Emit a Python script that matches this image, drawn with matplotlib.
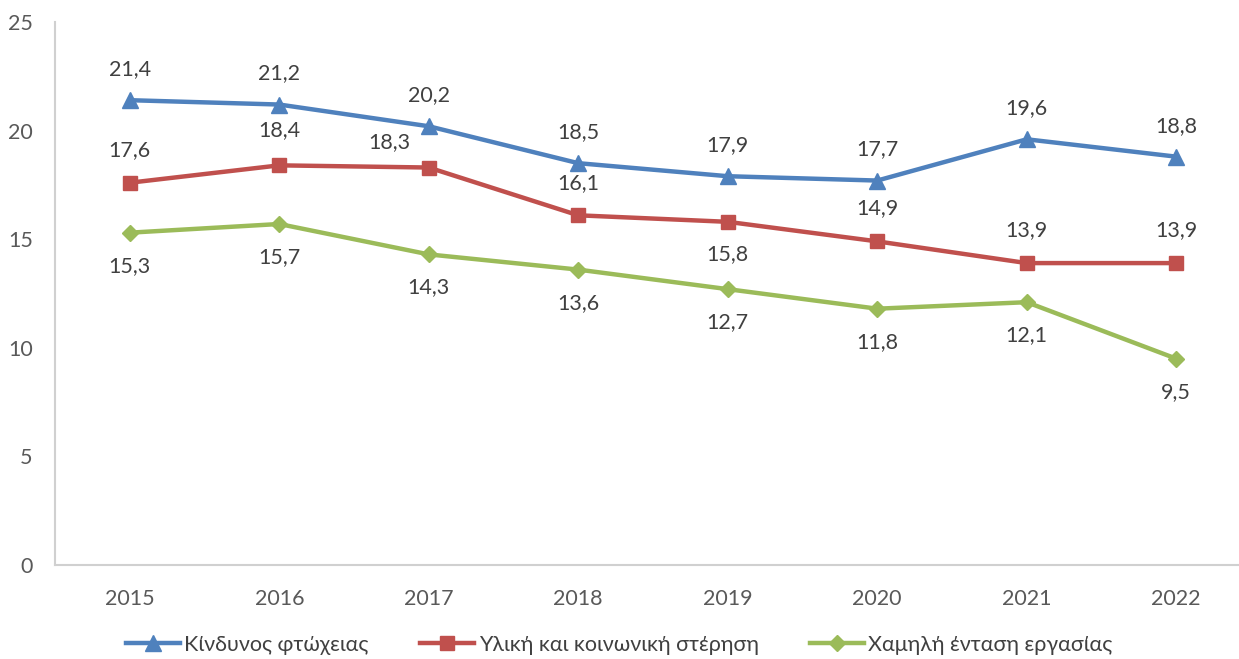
import numpy as np
import matplotlib.pyplot as plt

years = ["2015", "2016", "2017", "2018", "2019", "2020", "2021", "2022"]
poverty = [21.4, 21.2, 20.2, 18.5, 17.9, 17.7, 19.6, 18.8]
deprivation = [17.6, 18.4, 18.3, 16.1, 15.8, 14.9, 13.9, 13.9]
low_work = [15.3, 15.7, 14.3, 13.6, 12.7, 11.8, 12.1, 9.5]

names = ["Κίνδυνος φτώχειας", "Υλική και κοινωνική στέρηση", "Χαμηλή ένταση εργασίας"]

plt.rcParams['font.family'] = ['Lato', 'DejaVu Sans']

fig = plt.figure(figsize=(12.39, 6.59), dpi=100)
ax = fig.add_axes([55 / 1239, 1 - 565 / 659, 1196 / 1239, 543 / 659])

x = np.arange(len(years))
txt = "#404040"

ax.plot(x, poverty, color="#4F81BD", lw=3.2, marker="^", ms=11, label=names[0])
ax.plot(x, deprivation, color="#C0504D", lw=3.2, marker="s", ms=9.5, label=names[1])
ax.plot(x, low_work, color="#9BBB59", lw=3.2, marker="D", ms=8, label=names[2])

fs = 15.5
for i, v in enumerate(poverty):
    ax.annotate(f"{v:.1f}".replace(".", ","), (x[i], v), xytext=(0, 31),
                textcoords="offset pixels", ha="center", va="center", fontsize=fs, color=txt)

red_off = [(0, 33), (0, 35), (-39, 25), (0, 32), (0, -32), (0, 33), (0, 33), (0, 33)]
for i, v in enumerate(deprivation):
    ax.annotate(f"{v:.1f}".replace(".", ","), (x[i], v), xytext=red_off[i],
                textcoords="offset pixels", ha="center", va="center", fontsize=fs, color=txt)

for i, v in enumerate(low_work):
    ax.annotate(f"{v:.1f}".replace(".", ","), (x[i], v), xytext=(0, -33),
                textcoords="offset pixels", ha="center", va="center", fontsize=fs, color=txt)

ax.set_xlim(-0.5, len(years) - 0.5)
ax.set_ylim(0, 25)
ax.set_yticks([0, 5, 10, 15, 20, 25])
ax.set_xticks(x)
ax.set_xticklabels(years)
ax.tick_params(axis="both", length=0, labelsize=fs, labelcolor="#595959")
ax.tick_params(axis="y", pad=16)
ax.tick_params(axis="x", pad=17)

for s in ["top", "right"]:
    ax.spines[s].set_visible(False)
for s in ["left", "bottom"]:
    ax.spines[s].set_color("#D0D0D0")
    ax.spines[s].set_linewidth(1.5)

leg = fig.legend(loc="center", bbox_to_anchor=(0.5, 1 - 645 / 659), ncol=3, frameon=False,
                 fontsize=fs, handlelength=2.5, columnspacing=2.4, handletextpad=0.2)
for t in leg.get_texts():
    t.set_color(txt)

fig.savefig("out.png", dpi=100)
